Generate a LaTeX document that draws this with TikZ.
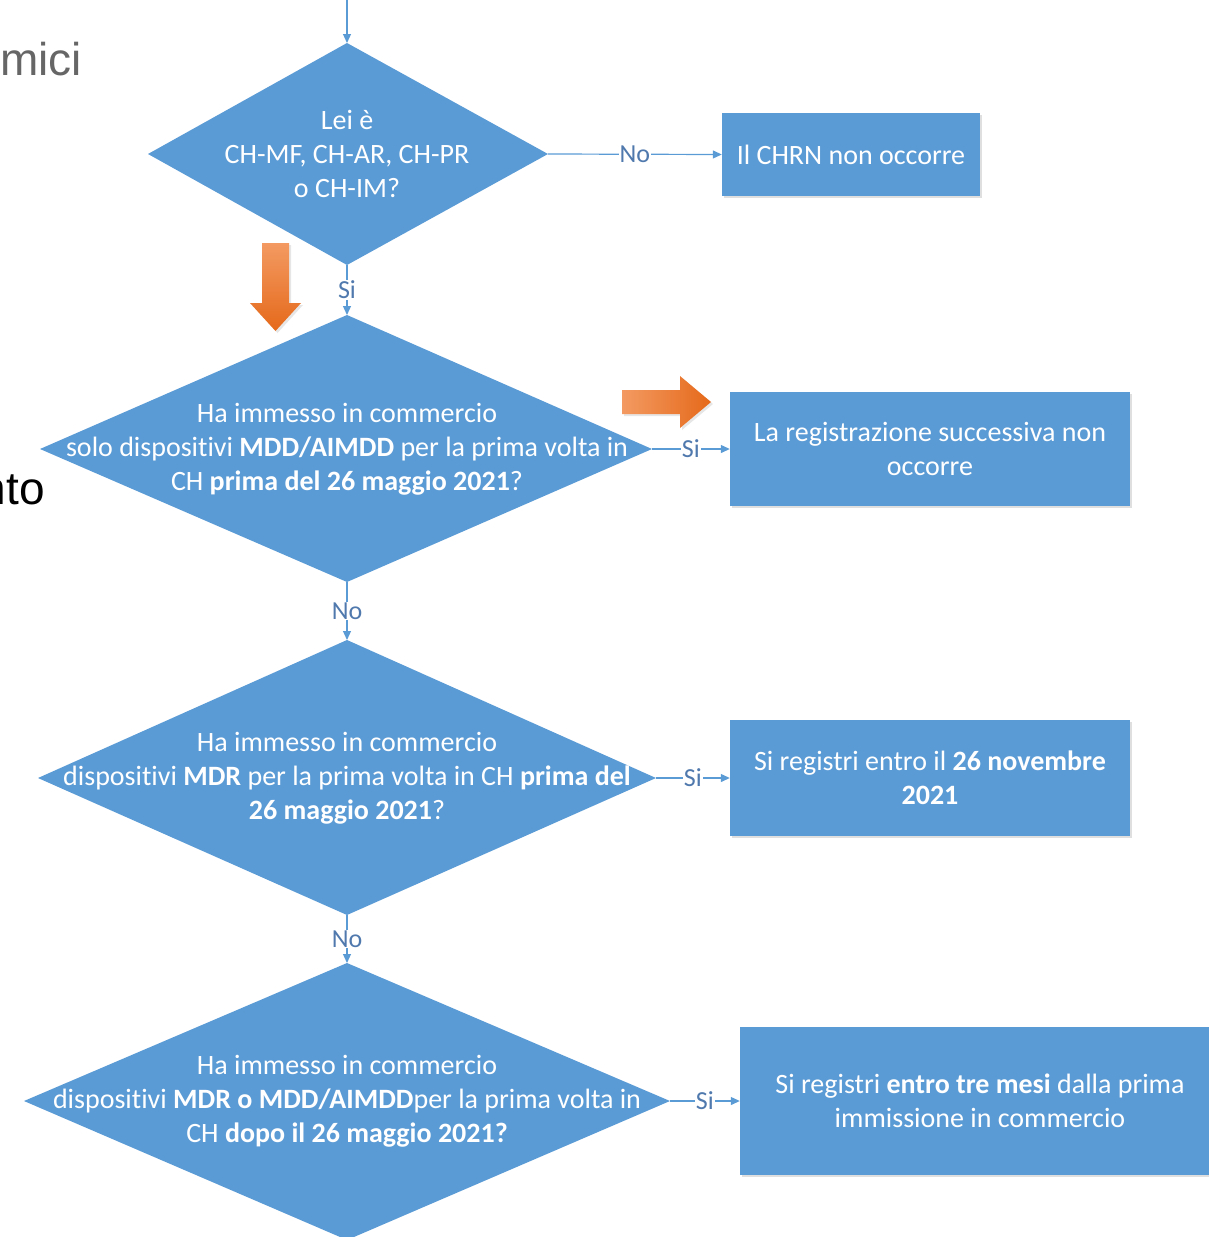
\documentclass[tikz,border=0pt]{standalone}
\usepackage{fontspec}
\setmainfont[Ligatures=NoCommon]{Carlito}
\newfontfamily\arialf{Liberation Sans}
\usetikzlibrary{arrows.meta,shadows}
\definecolor{blu}{HTML}{5B9BD5}
\definecolor{lblc}{HTML}{5079AE}
\definecolor{orL}{HTML}{F39A62}
\definecolor{orD}{HTML}{E5691A}
\definecolor{graytxt}{HTML}{666666}
\tikzset{
  dia/.style={fill=blu},
  diatext/.style={text=white, align=center, font=\fontsize{28}{34}\selectfont, inner sep=0pt},
  box/.style={fill=blu, text=white, align=center, font=\fontsize{28}{34}\selectfont,
    drop shadow={opacity=0.25, shadow xshift=2pt, shadow yshift=-2pt}},
  conn/.style={draw=blu, line width=1.2pt, -{Triangle[length=9pt,width=8pt]}},
  lbl/.style={fill=white, text=lblc, inner sep=1pt, font=\fontsize{26}{30}\selectfont},
  orarrow/.style={drop shadow={opacity=0.2, shadow xshift=2pt, shadow yshift=-2pt}}
}
\begin{document}
\begin{tikzpicture}[x=1pt,y=-1pt]
\useasboundingbox (0,0) rectangle (1209,1237);
% background text fragments
\node[anchor=base west, inner sep=0pt, text=graytxt, font=\arialf\fontsize{46}{52}\selectfont] (tmici) at (0,75) {mici};
\node[anchor=base east, inner sep=0pt, text=black, font=\arialf\fontsize{46}{52}\selectfont] (tnto) at (45,504) {nto};
% diamond coordinates
\coordinate (d1n) at (347,43);  \coordinate (d1e) at (548,154);  \coordinate (d1s) at (347,265);  \coordinate (d1w) at (148,154);
\coordinate (d2n) at (347,315); \coordinate (d2e) at (652,449);  \coordinate (d2s) at (347,582);  \coordinate (d2w) at (40,449);
\coordinate (d3n) at (347,640); \coordinate (d3e) at (656,778);  \coordinate (d3s) at (347,915);  \coordinate (d3w) at (38,778);
\coordinate (d4n) at (347,963); \coordinate (d4e) at (670,1101); \coordinate (d4s) at (347,1240); \coordinate (d4w) at (24,1101);
\path[dia] (d1n) -- (d1e) -- (d1s) -- (d1w) -- cycle;
\path[dia] (d2n) -- (d2e) -- (d2s) -- (d2w) -- cycle;
\path[dia] (d3n) -- (d3e) -- (d3s) -- (d3w) -- cycle;
\path[dia] (d4n) -- (d4e) -- (d4s) -- (d4w) -- cycle;
\node[diatext] (t1) at (347,154) {Lei è\\CH-MF, CH-AR, CH-PR\\o CH-IM?};
\node[diatext] (t2) at (347,449) {Ha immesso in commercio\\solo dispositivi \textbf{MDD/AIMDD} per la prima volta in\\CH \textbf{prima del 26 maggio 2021}?};
\node[diatext] (t3) at (347,778) {Ha immesso in commercio\\dispositivi \textbf{MDR} per la prima volta in CH \textbf{prima del}\\\textbf{26 maggio 2021}?};
\node[diatext] (t4) at (347,1101) {Ha immesso in commercio\\dispositivi \textbf{MDR o MDD/AIMDD}per la prima volta in\\CH \textbf{dopo il 26 maggio 2021?}};
% boxes
\node[box, minimum width=258pt, minimum height=83pt] (b1) at (851,154.5) {Il CHRN non occorre};
\node[box, minimum width=400pt, minimum height=114pt] (b2) at (930,449) {La registrazione successiva non\\occorre};
\node[box, minimum width=400pt, minimum height=116pt] (b3) at (930,778) {Si registri entro il \textbf{26 novembre}\\\textbf{2021}};
\node[box, minimum width=480pt, minimum height=148pt] (b4) at (980,1101) {Si registri \textbf{entro tre mesi} dalla prima\\immissione in commercio};
% connectors
\coordinate (start) at (347,0);
\draw[conn] (start) -- (d1n);
\draw[conn] (d1e) -- node[lbl] (l1) {No} (b1.west);
\draw[conn] (d1s) -- node[lbl, pos=0.5] (l2) {Si} (d2n);
\draw[conn] (d2e) -- node[lbl] (l3) {Si} (b2.west);
\draw[conn] (d2s) -- node[lbl] (l4) {No} (d3n);
\draw[conn] (d3e) -- node[lbl] (l5) {Si} (b3.west);
\draw[conn] (d3s) -- node[lbl] (l6) {No} (d4n);
\draw[conn] (d4e) -- node[lbl] (l7) {Si} (b4.west);
% orange highlight arrows
\shade[orarrow, top color=orL, bottom color=orD] (262,243) -- (289,243) -- (289,303) -- (301,303) -- (275.5,331) -- (250,303) -- (262,303) -- cycle;
\shade[orarrow, left color=orL, right color=orD] (622,390) -- (680,390) -- (680,376) -- (711,402) -- (680,428) -- (680,414) -- (622,414) -- cycle;
\end{tikzpicture}
\end{document}
